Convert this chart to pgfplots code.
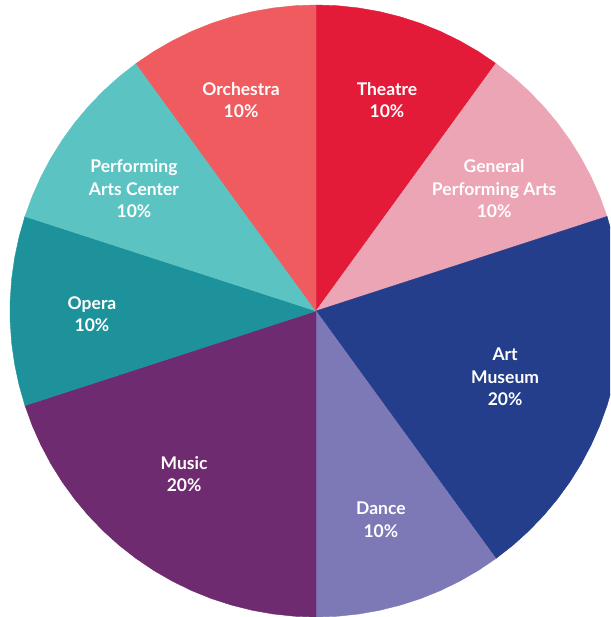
\documentclass[border=0pt]{standalone}
\usepackage{pgfplots}
\pgfplotsset{compat=1.18}
\usepackage{fontspec}
\setmainfont{Lato}
\definecolor{cOrch}{RGB}{239,91,95}
\definecolor{cThea}{RGB}{227,26,56}
\definecolor{cGPA}{RGB}{236,165,181}
\definecolor{cArt}{RGB}{36,62,140}
\definecolor{cDance}{RGB}{124,121,182}
\definecolor{cMusic}{RGB}{111,43,111}
\definecolor{cOpera}{RGB}{30,146,155}
\definecolor{cPAC}{RGB}{92,195,195}
\begin{document}
\begin{tikzpicture}
\begin{axis}[
  scale only axis, width=610pt, height=617pt,
  xmin=-1.03268, xmax=0.96078, ymin=-1.0, ymax=1.01634,
  enlargelimits=false, ticks=none, axis line style={draw=none},
  axis background/.style={fill=white},
  clip=true,
]
% Theatre 10% : 90 -> 54
\addplot[fill=cThea, draw=cThea, line width=0.4pt, data cs=polar] coordinates {
(0,0) (90,1) (86,1) (82,1) (78,1) (74,1) (70,1) (66,1) (62,1) (58,1) (54,1) (0,0)};
% General Performing Arts 10% : 54 -> 18
\addplot[fill=cGPA, draw=cGPA, line width=0.4pt, data cs=polar] coordinates {
(0,0) (54,1) (50,1) (46,1) (42,1) (38,1) (34,1) (30,1) (26,1) (22,1) (18,1) (0,0)};
% Art Museum 20% : 18 -> -54
\addplot[fill=cArt, draw=cArt, line width=0.4pt, data cs=polar] coordinates {
(0,0) (18,1) (14,1) (10,1) (6,1) (2,1) (-2,1) (-6,1) (-10,1) (-14,1) (-18,1)
(-22,1) (-26,1) (-30,1) (-34,1) (-38,1) (-42,1) (-46,1) (-50,1) (-54,1) (0,0)};
% Dance 10% : -54 -> -90
\addplot[fill=cDance, draw=cDance, line width=0.4pt, data cs=polar] coordinates {
(0,0) (-54,1) (-58,1) (-62,1) (-66,1) (-70,1) (-74,1) (-78,1) (-82,1) (-86,1) (-90,1) (0,0)};
% Music 20% : -90 -> -162
\addplot[fill=cMusic, draw=cMusic, line width=0.4pt, data cs=polar] coordinates {
(0,0) (-90,1) (-94,1) (-98,1) (-102,1) (-106,1) (-110,1) (-114,1) (-118,1) (-122,1) (-126,1)
(-130,1) (-134,1) (-138,1) (-142,1) (-146,1) (-150,1) (-154,1) (-158,1) (-162,1) (0,0)};
% Opera 10% : -162 -> -198
\addplot[fill=cOpera, draw=cOpera, line width=0.4pt, data cs=polar] coordinates {
(0,0) (-162,1) (-166,1) (-170,1) (-174,1) (-178,1) (-182,1) (-186,1) (-190,1) (-194,1) (-198,1) (0,0)};
% Performing Arts Center 10% : -198 -> -234
\addplot[fill=cPAC, draw=cPAC, line width=0.4pt, data cs=polar] coordinates {
(0,0) (-198,1) (-202,1) (-206,1) (-210,1) (-214,1) (-218,1) (-222,1) (-226,1) (-230,1) (-234,1) (0,0)};
% Orchestra 10% : -234 -> -270
\addplot[fill=cOrch, draw=cOrch, line width=0.4pt, data cs=polar] coordinates {
(0,0) (-234,1) (-238,1) (-242,1) (-246,1) (-250,1) (-254,1) (-258,1) (-262,1) (-266,1) (-270,1) (0,0)};
% labels
\addplot[draw=none, mark=none, nodes near coords, point meta=explicit symbolic,
  nodes near coords style={anchor=center, align=center, text=white,
    font=\fontsize{17.5}{22.5}\selectfont\bfseries, inner sep=0pt}]
coordinates {
(-0.245,0.690) [{Orchestra\\10\%}]
(0.232,0.690) [{Theatre\\10\%}]
(0.582,0.399) [{General\\Performing Arts\\10\%}]
(0.618,-0.216) [{Art\\Museum\\20\%}]
(0.212,-0.683) [{Dance\\10\%}]
(-0.431,-0.533) [{Music\\20\%}]
(-0.732,-0.010) [{Opera\\10\%}]
(-0.595,0.399) [{Performing\\Arts Center\\10\%}]
};
\end{axis}
\end{tikzpicture}
\end{document}
